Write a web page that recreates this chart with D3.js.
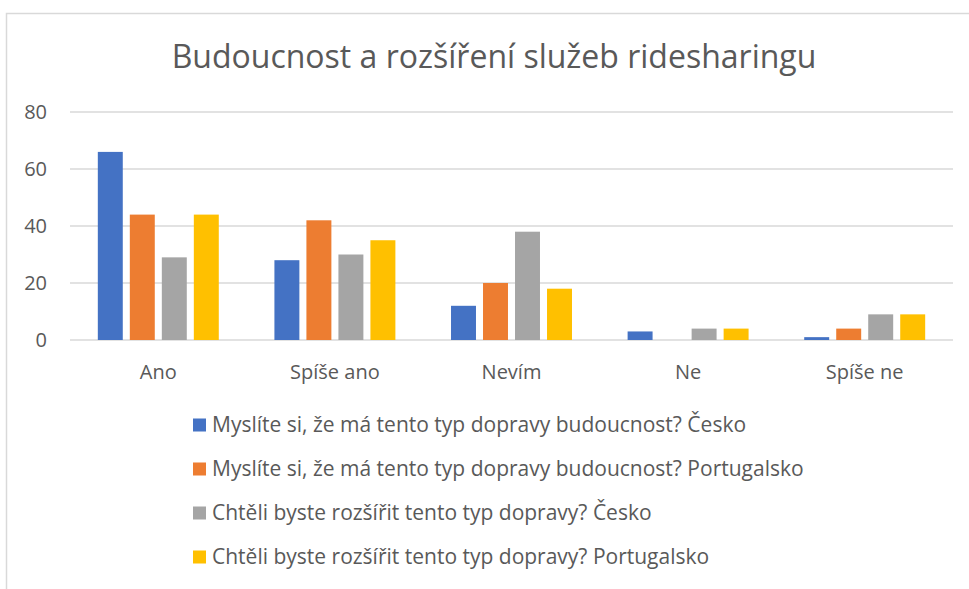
<!DOCTYPE html>
<html>
<head>
<meta charset="utf-8">
<script src="https://cdn.jsdelivr.net/npm/d3@7"></script>
<style>
  body { margin: 0; background: #fff; }
  text { font-family: "Open Sans", "Noto Sans", sans-serif; fill: #595959; }
</style>
</head>
<body>
<script>
const categories = ["Ano", "Spíše ano", "Nevím", "Ne", "Spíše ne"];
const seriesNames = [
    "Myslíte si, že má tento typ dopravy budoucnost? Česko",
    "Myslíte si, že má tento typ dopravy budoucnost? Portugalsko",
    "Chtěli byste rozšířit tento typ dopravy? Česko",
    "Chtěli byste rozšířit tento typ dopravy? Portugalsko"
];
const budoucnostCesko = [66, 28, 12, 3, 1];
const budoucnostPortugalsko = [44, 42, 20, 0, 4];
const rozsiritCesko = [29, 30, 38, 4, 9];
const rozsiritPortugalsko = [44, 35, 18, 4, 9];
const yTicks = [0, 20, 40, 60, 80];
const colors = ["#4472C4", "#ED7D31", "#A5A5A5", "#FFC000"];

const seriesValues = [budoucnostCesko, budoucnostPortugalsko, rozsiritCesko, rozsiritPortugalsko];

const width = 969;
const height = 589;

const svg = d3.select("body")
    .append("svg")
    .attr("width", width)
    .attr("height", height);

// frame (cropped chart area border)
svg.append("path")
    .attr("d", "M6.5,589 V13.5 H969")
    .attr("fill", "none")
    .attr("stroke", "#d9d9d9")
    .attr("stroke-width", 1.5);

svg.append("text")
    .attr("x", 494)
    .attr("y", 68)
    .attr("text-anchor", "middle")
    .style("font-size", "32px")
    .text("Budoucnost a rozšíření služeb ridesharingu");

const x = d3.scaleBand()
    .domain(categories)
    .range([70, 953])
    .paddingInner(0.315)
    .paddingOuter(0.1575);

const xSeries = d3.scaleBand()
    .domain(d3.range(seriesNames.length))
    .range([0, x.bandwidth()])
    .paddingInner(0.22);

const y = d3.scaleLinear()
    .domain([0, 80])
    .range([340, 112]);

// gridlines
svg.append("g")
    .selectAll("line")
    .data(yTicks)
    .enter()
    .append("line")
    .attr("x1", 70)
    .attr("x2", 953)
    .attr("y1", d => y(d))
    .attr("y2", d => y(d))
    .attr("stroke", "#d9d9d9")
    .attr("stroke-width", 1.3);

svg.append("g")
    .selectAll("text")
    .data(yTicks)
    .enter()
    .append("text")
    .attr("x", 47)
    .attr("y", d => y(d))
    .attr("dy", "0.35em")
    .attr("text-anchor", "end")
    .style("font-size", "20px")
    .text(d => d);

const groups = svg.append("g")
    .selectAll("g")
    .data(categories)
    .enter()
    .append("g")
    .attr("transform", d => "translate(" + x(d) + ",0)");

groups.selectAll("rect")
    .data((d, i) => seriesValues.map((vals, s) => ({ s: s, v: vals[i] })))
    .enter()
    .append("rect")
    .attr("x", d => xSeries(d.s))
    .attr("width", xSeries.bandwidth())
    .attr("y", d => y(d.v))
    .attr("height", d => y(0) - y(d.v))
    .attr("fill", d => colors[d.s]);

// category labels
svg.append("g")
    .selectAll("text")
    .data(categories)
    .enter()
    .append("text")
    .attr("x", d => x(d) + x.bandwidth() / 2)
    .attr("y", 379)
    .attr("text-anchor", "middle")
    .style("font-size", "20px")
    .text(d => d);

// legend
const legend = svg.append("g")
    .selectAll("g")
    .data(seriesNames)
    .enter()
    .append("g")
    .attr("transform", (d, i) => "translate(193," + (425 + i * 44) + ")");

legend.append("rect")
    .attr("x", 0)
    .attr("y", -6.5)
    .attr("width", 13)
    .attr("height", 13)
    .attr("fill", (d, i) => colors[i]);

legend.append("text")
    .attr("x", 19)
    .attr("y", 0)
    .attr("dy", "0.35em")
    .style("font-size", "21px")
    .text(d => d);
</script>
</body>
</html>
